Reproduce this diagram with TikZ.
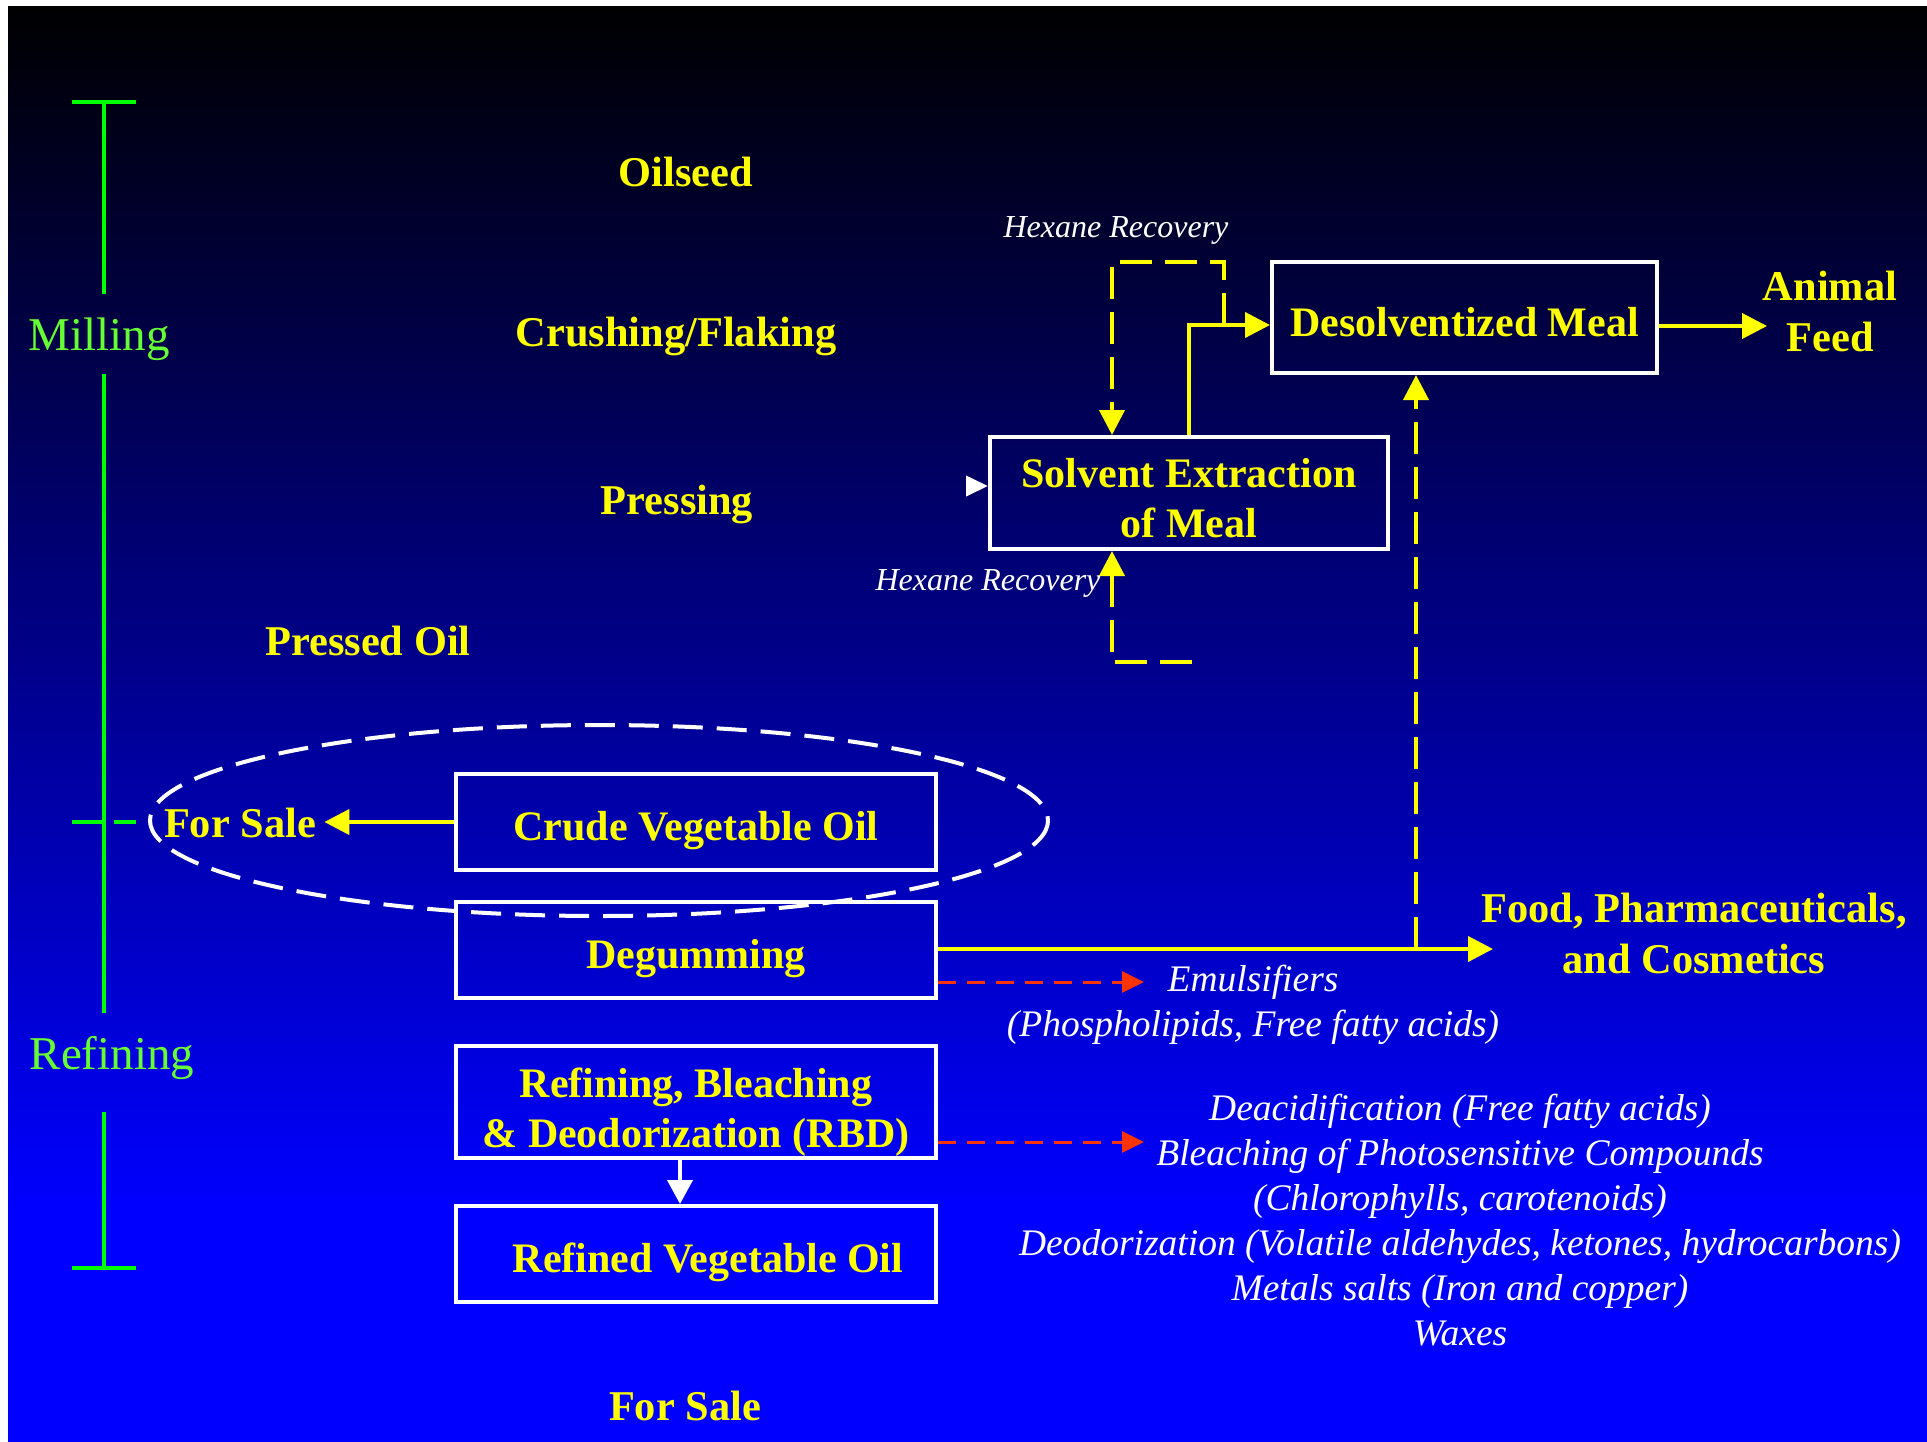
\documentclass[tikz,border=0pt]{standalone}
\usepackage{fontspec}
\setmainfont{Liberation Serif}
\usetikzlibrary{arrows.meta,positioning}

\definecolor{oilyellow}{RGB}{255,255,0}
\definecolor{stagegreen}{RGB}{0,255,0}
\definecolor{stagetext}{RGB}{102,255,51}
\definecolor{lossred}{RGB}{255,51,0}

% the path covers 25bp--75bp of a declared shading
\pgfdeclareverticalshading{bgfade}{100bp}{color(0bp)=(blue); color(33bp)=(blue); color(75bp)=(black); color(100bp)=(black)}

\begin{document}
\begin{tikzpicture}[x=0.5pt, y=-0.5pt,
  procbox/.style={draw=white, line width=2pt, text=oilyellow,
    font=\bfseries\fontsize{21}{25}\selectfont, align=center, inner sep=0pt},
  onerow/.style={text height=18.5pt, text depth=0pt},
  stepname/.style={text=oilyellow, font=\bfseries\fontsize{21.2}{25.5}\selectfont,
    align=center, inner sep=4pt},
  sidenote/.style={text=white, font=\itshape\fontsize{18.75}{22.5}\selectfont, align=center},
  hexnote/.style={text=white, font=\itshape\fontsize{16}{19}\selectfont, inner sep=0pt},
  stagename/.style={text=stagetext, font=\fontsize{23.5}{28}\selectfont, inner sep=0pt},
  stageline/.style={draw=stagegreen, line width=2pt},
  flowarrow/.style={draw=oilyellow, line width=2pt, -{Triangle[length=12.5pt,width=12.5pt]}},
  recycle/.style={flowarrow, dash pattern=on 16pt off 6.5pt},
  losstip/.style={draw=lossred, line width=1.5pt, dash pattern=on 9pt off 5.5pt,
    -{Triangle[length=11pt,width=10.5pt]}},
  whitearrow/.style={draw=white, line width=2pt, -{Triangle[length=12pt,width=12.5pt]}},
  whitetip/.style={draw=white, line width=2pt, -{Triangle[length=11pt,width=10pt]}}
]

% Page and background
\useasboundingbox (0,0) rectangle (1927,1441);
\fill[white] (0,0) rectangle (1927,1441);
\shade[shading=bgfade] (8,6) rectangle (1927,1441);

% Milling / Refining scale
\draw[stageline] (72,102) -- (136,102);
\draw[stageline] (104,102) -- (104,294);
\node[stagename, anchor=base] (milling) at (99,350) {Milling};
\draw[stageline] (104,374) -- (104,1013);
\draw[stageline, dash pattern=on 15pt off 6pt] (72,822) -- (136,822);
\node[stagename, anchor=base] (refining) at (112,1069) {Refining};
\draw[stageline] (104,1112) -- (104,1268);
\draw[stageline] (72,1268) -- (136,1268);

% Milling steps
\node[stepname, anchor=base] (oilseed) at (686,186) {Oilseed};
\node[stepname, anchor=base] (crushing) at (676,346) {Crushing/Flaking};
\node[stepname, anchor=base] (pressing) at (677,514) {Pressing};
\node[stepname, anchor=base] (pressedoil) at (368,655) {Pressed Oil};

% Process boxes
\node[procbox, onerow, minimum width=240pt, minimum height=48pt] (crude) at (696,822) {Crude Vegetable Oil};
\node[procbox, onerow, minimum width=240pt, minimum height=48pt] (degum) at (696,950) {Degumming};
\node[procbox, minimum width=240pt, minimum height=56pt] (rbd) at (696,1102) {\rule{0pt}{24.5pt}Refining, Bleaching\\\& Deodorization (RBD)};
\node[procbox, onerow, minimum width=240pt, minimum height=48pt] (refined) at (696,1254) {\hspace*{12pt}Refined Vegetable Oil};
\node[procbox, minimum width=199pt, minimum height=56pt] (solvent) at (1189,493) {\rule{0pt}{19.5pt}Solvent Extraction\\of Meal};
\node[procbox, onerow, minimum width=192.5pt, minimum height=55.5pt] (desolv) at (1464.5,317.5) {Desolventized Meal};

% Outlets
\node[stepname, anchor=base] (saleleft) at (240,837) {For Sale};
\node[stepname, anchor=base] (salebottom) at (685,1420) {For Sale};
\node[stepname] (feed) at (1830,311) {Animal\\Feed};
\node[stepname] (food) at (1694,933) {Food, Pharmaceuticals,\\and Cosmetics};

% Side notes
\node[hexnote, anchor=base] (hexup) at (1116,237) {Hexane Recovery};
\node[hexnote, anchor=base] (hexdown) at (988,590) {Hexane Recovery};
\node[sidenote] (emuls) at (1253,1005) {Emulsifiers\\(Phospholipids, Free fatty acids)};
\node[sidenote] (rbdloss) at (1460,1220) {Deacidification (Free fatty acids)\\
  Bleaching of Photosensitive Compounds\\(Chlorophylls, carotenoids)\\
  Deodorization (Volatile aldehydes, ketones, hydrocarbons)\\
  Metals salts (Iron and copper)\\Waxes};

% Free ends of connectors
\coordinate (feedin) at (1767,326);
\coordinate (foodin) at (1493,949);
\coordinate (emulin) at (1144,982);
\coordinate (rbdin) at (1144,1142);
\coordinate (mealup) at (1416,949);
\coordinate (hexsplit) at (1224,325);
\coordinate (hexcorner) at (1112,262);
\coordinate (hexreturn) at (1192,662);
\coordinate (pressin) at (968,486);

% Sale ring
\draw[white, line width=2pt, dash pattern=on 15pt off 7pt]
  (599,820.5) ellipse [x radius=449, y radius=95.5];

% Connectors
\draw[flowarrow] (crude.west) -- (crude.west -| saleleft.east);
\draw[whitearrow] ([xshift=-8pt]rbd.south) -- ([xshift=-8pt]refined.north);
\draw[whitetip] (pressin) -- (pressin -| solvent.west);
\draw[flowarrow] (solvent.north) |- (desolv.west |- hexsplit);
\draw[flowarrow] (desolv.east |- feedin) -- (feedin);
\draw[flowarrow] (degum.east |- foodin) -- (foodin);
\draw[recycle] (mealup) -- (mealup |- desolv.south);

% Hexane loops
\draw[recycle] (hexsplit) |- (hexcorner) -- (hexcorner |- solvent.north);
\draw[recycle] (hexreturn) -| (hexcorner |- solvent.south);

% By-products
\draw[losstip] (degum.east |- emulin) -- (emulin);
\draw[losstip] (rbd.east |- rbdin) -- (rbdin);

\end{tikzpicture}
\end{document}
